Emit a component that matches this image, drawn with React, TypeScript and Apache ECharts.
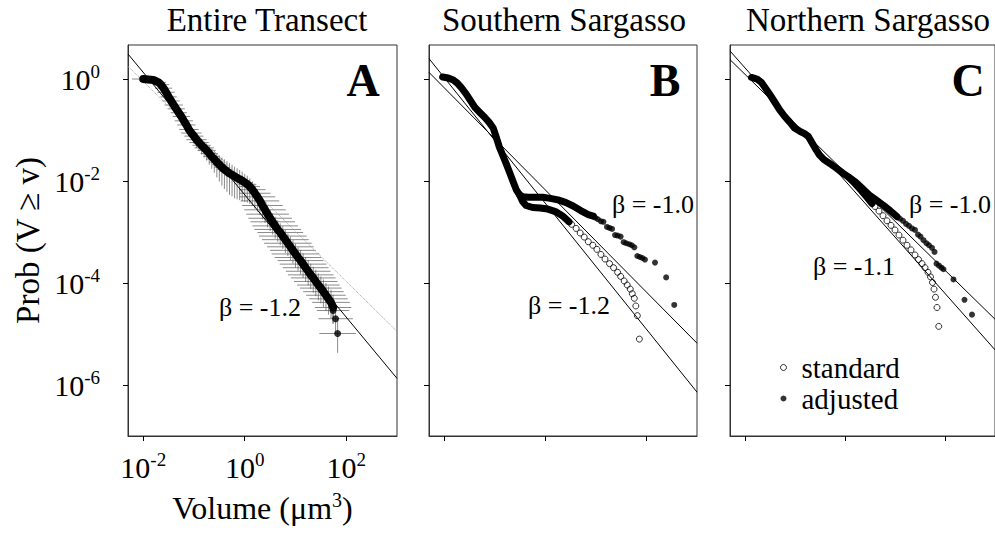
import React, { useEffect, useRef } from "react";
import * as echarts from "echarts";

const FONT = '"Liberation Serif", "Times New Roman", Times, serif';

// ---------- texts ----------
const panelTitles = ["Entire Transect", "Southern Sargasso", "Northern Sargasso"];
const panelLetters = ["A", "B", "C"];
const yAxisTitle = "Prob (V \u2265 v)";
const legendNames = ["standard", "adjusted"];
const betaA = ["\u03b2 = -1.2"];
const betaB = ["\u03b2 = -1.0", "\u03b2 = -1.2"];
const betaC = ["\u03b2 = -1.0", "\u03b2 = -1.1"];

// ---------- axes (log10 units) ----------
const xTickExps = [-2, 0, 2];
const yTickExps = [-6, -4, -2, 0];
const xExtent = [-2.3, 3.0];
const yExtent = [-7, 0.667];

// ---------- Panel A: entire transect (log10 volume, log10 prob) ----------
const aCurve = [
  [-2.0, 0.0], [-1.95, -0.005], [-1.9, -0.01], [-1.85, -0.015], [-1.8, -0.02],
  [-1.75, -0.04], [-1.7, -0.065], [-1.65, -0.11], [-1.6, -0.18], [-1.55, -0.26], [-1.5, -0.35],
  [-1.45, -0.43], [-1.4, -0.51], [-1.35, -0.585], [-1.3, -0.66], [-1.25, -0.735], [-1.2, -0.82],
  [-1.15, -0.9], [-1.1, -0.99], [-1.05, -1.06], [-1.0, -1.12], [-0.95, -1.19], [-0.9, -1.245],
  [-0.85, -1.3], [-0.8, -1.35], [-0.75, -1.4], [-0.7, -1.46], [-0.65, -1.52], [-0.6, -1.57],
  [-0.55, -1.63], [-0.5, -1.68], [-0.45, -1.73], [-0.4, -1.775], [-0.35, -1.81], [-0.3, -1.85],
  [-0.25, -1.88], [-0.2, -1.91], [-0.15, -1.94], [-0.1, -1.965], [-0.05, -1.995], [0.0, -2.03],
  [0.05, -2.065], [0.1, -2.11],
  [0.15, -2.17], [0.2, -2.24], [0.25, -2.31], [0.3, -2.39], [0.35, -2.48], [0.4, -2.565],
  [0.45, -2.65], [0.5, -2.73],
  [0.55, -2.8], [0.6, -2.88], [0.65, -2.95], [0.7, -3.01], [0.75, -3.08], [0.8, -3.15],
  [0.85, -3.22], [0.9, -3.29], [0.95, -3.36], [1.0, -3.43], [1.05, -3.5], [1.1, -3.56],
  [1.15, -3.63], [1.2, -3.7], [1.25, -3.77], [1.3, -3.84], [1.35, -3.9], [1.4, -3.97],
  [1.45, -4.04], [1.5, -4.1], [1.55, -4.17], [1.6, -4.24], [1.65, -4.31], [1.7, -4.38], [1.74, -4.48],
];
const aErrX = [
  0.22, 0.06, 0.06, 0.06, 0.07,
  0.14, 0.15, 0.16, 0.17, 0.17, 0.16, 0.17, 0.18, 0.17, 0.16, 0.17, 0.18,
  0.18, 0.19, 0.2, 0.19, 0.2, 0.19, 0.18, 0.19, 0.18, 0.17, 0.16, 0.16,
  0.15, 0.14, 0.15, 0.14, 0.15, 0.14, 0.15, 0.16, 0.15, 0.16, 0.15, 0.16, 0.18, 0.2,
  0.26, 0.31, 0.35, 0.38, 0.4, 0.41, 0.42, 0.43,
  0.44, 0.45, 0.46, 0.45, 0.47, 0.46, 0.47, 0.46, 0.45, 0.47, 0.46, 0.45, 0.46, 0.45, 0.44,
  0.45, 0.44, 0.43, 0.42, 0.41, 0.4, 0.39, 0.38, 0.37, 0.36,
];
const aErrYDown = [
  0.03, 0.03, 0.04, 0.04, 0.05,
  0.06, 0.07, 0.07, 0.08, 0.08, 0.09, 0.09, 0.1, 0.1, 0.11, 0.11, 0.12,
  0.12, 0.13, 0.14, 0.15, 0.16, 0.17, 0.18, 0.19, 0.2, 0.22, 0.24, 0.27,
  0.3, 0.33, 0.36, 0.38, 0.4, 0.42, 0.42, 0.43, 0.42, 0.41, 0.4, 0.38, 0.36, 0.34,
  0.32, 0.3, 0.29, 0.28, 0.27, 0.26, 0.26, 0.25,
  0.25, 0.25, 0.24, 0.25, 0.25, 0.26, 0.25, 0.26, 0.26, 0.27, 0.26, 0.27, 0.27, 0.28, 0.28,
  0.28, 0.29, 0.29, 0.3, 0.3, 0.3, 0.31, 0.31, 0.32, 0.32,
];
const aErrYUp = [
  0.02, 0.02, 0.03, 0.03, 0.03,
  0.04, 0.05, 0.05, 0.05, 0.06, 0.06, 0.06, 0.07, 0.07, 0.07, 0.08, 0.08,
  0.08, 0.09, 0.09, 0.1, 0.1, 0.11, 0.12, 0.12, 0.13, 0.14, 0.15, 0.16,
  0.17, 0.18, 0.19, 0.2, 0.2, 0.2, 0.2, 0.19, 0.19, 0.18, 0.18, 0.17, 0.17, 0.16,
  0.16, 0.16, 0.15, 0.15, 0.15, 0.16, 0.16, 0.17,
  0.17, 0.18, 0.18, 0.18, 0.19, 0.19, 0.19, 0.2, 0.2, 0.2, 0.2, 0.21, 0.21, 0.21, 0.22,
  0.22, 0.22, 0.23, 0.23, 0.23, 0.24, 0.24, 0.24, 0.25, 0.25,
];
const aTail = [[1.74, -4.54], [1.79, -4.7], [1.83, -4.99]];
const aTailErrX = [0.32, 0.34, 0.36];
const aTailErrYDown = [0.25, 0.3, 0.38];
const aTailErrYUp = [0.2, 0.22, 0.3];
const aFit = [[-2.3, 0.49], [3.0, -5.87]];
const aFitDotted = [[-2.3, 0.25], [3.0, -4.95]];

// ---------- Panel B: southern Sargasso ----------
const bAdjCurve = [
  [-2.03, 0.04], [-1.92, 0.02], [-1.82, -0.02], [-1.74, -0.08], [-1.66, -0.17], [-1.56, -0.3],
  [-1.47, -0.44], [-1.39, -0.56], [-1.3, -0.65], [-1.2, -0.75], [-1.11, -0.85], [-1.03, -0.96],
  [-0.97, -1.14], [-0.91, -1.33], [-0.84, -1.5], [-0.77, -1.67], [-0.7, -1.85], [-0.63, -2.03],
  [-0.57, -2.18], [-0.51, -2.27], [-0.44, -2.31], [-0.34, -2.32], [-0.2, -2.32], [-0.05, -2.32],
  [0.1, -2.34], [0.25, -2.37], [0.4, -2.42], [0.55, -2.49], [0.7, -2.58], [0.85, -2.66], [0.95, -2.69],
];
const bStdCurve = [
  [-0.51, -2.27], [-0.45, -2.4], [-0.38, -2.48], [-0.25, -2.52], [-0.1, -2.53], [0.05, -2.55],
  [0.2, -2.6], [0.35, -2.69], [0.47, -2.8],
];
const bAdjDots = [
  [0.99, -2.72], [1.04, -2.75], [1.1, -2.79], [1.15, -2.8], [1.22, -2.9], [1.27, -2.92],
  [1.32, -2.94], [1.38, -3.06], [1.43, -3.07], [1.49, -3.09], [1.55, -3.2], [1.6, -3.22],
  [1.66, -3.24], [1.71, -3.26], [1.76, -3.3], [1.82, -3.47], [1.87, -3.49], [1.92, -3.51],
  [1.97, -3.54], [2.17, -3.6], [2.39, -3.89], [2.55, -4.43],
];
const bStdDots = [
  [0.52, -2.85], [0.61, -2.93], [0.69, -3.02], [0.77, -3.1], [0.85, -3.19], [0.94, -3.26],
  [1.02, -3.34], [1.1, -3.44], [1.18, -3.53], [1.27, -3.62], [1.35, -3.7], [1.43, -3.79],
  [1.49, -3.87], [1.56, -3.96], [1.62, -4.04], [1.68, -4.12], [1.72, -4.21], [1.76, -4.3],
  [1.79, -4.45], [1.82, -4.64], [1.86, -5.1],
];
const bFit10 = [[-2.3, 0.13], [3.0, -5.18]];
const bFit12 = [[-2.3, 0.4], [3.0, -6.14]];

// ---------- Panel C: northern Sargasso ----------
const cAdjCurve = [
  [-1.87, 0.03], [-1.76, 0.0], [-1.67, -0.07], [-1.59, -0.18], [-1.5, -0.31], [-1.4, -0.46],
  [-1.31, -0.6], [-1.21, -0.73], [-1.11, -0.84], [-1.01, -0.96], [-0.91, -1.02], [-0.81, -1.07],
  [-0.73, -1.13], [-0.66, -1.25], [-0.59, -1.37], [-0.51, -1.49], [-0.42, -1.58], [-0.3, -1.66],
  [-0.17, -1.75], [-0.05, -1.84], [0.08, -1.93], [0.2, -2.01], [0.34, -2.14], [0.48, -2.27],
  [0.62, -2.37], [0.76, -2.47], [0.9, -2.58], [1.04, -2.7],
];
const cStdCurve = [[0.08, -1.93], [0.2, -2.05], [0.32, -2.18], [0.44, -2.32], [0.54, -2.44]];
const cAdjDots = [
  [1.1, -2.74], [1.16, -2.78], [1.22, -2.84], [1.28, -2.88], [1.34, -2.93], [1.4, -2.96],
  [1.46, -3.05], [1.51, -3.09], [1.57, -3.16], [1.63, -3.22], [1.68, -3.26], [1.74, -3.31],
  [1.79, -3.39], [1.83, -3.62], [1.88, -3.66], [1.93, -3.7], [1.97, -3.73], [2.17, -3.93],
  [2.39, -4.33], [2.54, -4.62],
];
const cStdDots = [
  [0.6, -2.5], [0.68, -2.59], [0.76, -2.68], [0.84, -2.78], [0.92, -2.87], [1.0, -2.96],
  [1.08, -3.06], [1.16, -3.16], [1.24, -3.26], [1.32, -3.35], [1.4, -3.45], [1.47, -3.54],
  [1.54, -3.62], [1.6, -3.7], [1.66, -3.79], [1.71, -3.88], [1.75, -3.99], [1.78, -4.12],
  [1.81, -4.28], [1.84, -4.48], [1.875, -4.85],
];
const cFit10 = [[-2.3, 0.38], [3.0, -4.71]];
const cFit11 = [[-2.3, 0.55], [3.0, -5.31]];

// ---------- layout ----------
const gridLeft = [128, 429, 730];
const gridWidth = [269, 268, 268];
const gridTop = 45;
const gridHeight = 391;

function buildOption() {
  const tickRich = {
    b: { fontFamily: FONT, fontSize: 30, color: "#000", lineHeight: 34 },
    s: { fontFamily: FONT, fontSize: 19, color: "#000", lineHeight: 19, verticalAlign: "top" },
  };
  const fmt = (v: number) => `{b|10}{s|${v}}`;

  const grid = gridLeft.map((l, i) => ({
    left: l, top: gridTop, width: gridWidth[i], height: gridHeight,
    show: true, borderColor: "#333", borderWidth: 1, backgroundColor: "transparent",
  }));

  const xAxis = gridLeft.map((_, i) => ({
    type: "value", gridIndex: i, min: xExtent[0], max: xExtent[1],
    axisLine: { show: true, onZero: false, lineStyle: { color: "#333", width: 1 } },
    axisTick: { show: true, inside: false, length: 5, customValues: xTickExps, lineStyle: { color: "#000" } },
    axisLabel: i === 0
      ? { show: true, customValues: xTickExps, formatter: fmt, margin: 14, rich: tickRich }
      : { show: false },
    splitLine: { show: false },
    name: i === 0 ? "{a|Volume (\u03bcm}{s|3}{a|)}" : "",
    nameLocation: "middle",
    nameGap: 54,
    nameTextStyle: {
      rich: {
        a: { fontFamily: FONT, fontSize: 32, color: "#000", lineHeight: 36 },
        s: { fontFamily: FONT, fontSize: 20, color: "#000", lineHeight: 20, verticalAlign: "top" },
      },
    },
  }));

  const yAxis = gridLeft.map((_, i) => ({
    type: "value", gridIndex: i, min: yExtent[0], max: yExtent[1],
    axisLine: { show: true, onZero: false, lineStyle: { color: "#333", width: 1 } },
    axisTick: { show: true, inside: false, length: 5, customValues: yTickExps, lineStyle: { color: "#000" } },
    axisLabel: i === 0
      ? { show: true, customValues: yTickExps, formatter: fmt, margin: 28, rich: tickRich }
      : { show: false },
    splitLine: { show: false },
    name: i === 0 ? yAxisTitle : "",
    nameLocation: "middle",
    nameRotate: 90,
    nameGap: 84,
    nameTextStyle: { fontFamily: FONT, fontSize: 33, color: "#000" },
  }));

  const thin = (data: number[][], i: number, extra: any = {}) => ({
    type: "line", xAxisIndex: i, yAxisIndex: i, data, symbol: "none", silent: true,
    lineStyle: { color: "#000", width: 1, ...extra }, z: 2,
  });
  const thick = (data: number[][], i: number, w: number) => ({
    type: "line", xAxisIndex: i, yAxisIndex: i, data, symbol: "none", silent: true,
    lineStyle: { color: "#000", width: w, cap: "round", join: "round" }, z: 3,
  });
  const dots = (name: string, data: number[][], i: number, open: boolean, size: number) => ({
    type: "scatter", name, xAxisIndex: i, yAxisIndex: i, data, symbol: "circle", symbolSize: size, silent: true,
    itemStyle: open
      ? { color: "rgba(0,0,0,0)", borderColor: "#000", borderWidth: 1 }
      : { color: "#000", borderWidth: 0 },
    z: 4,
  });

  const errRows = [
    ...aCurve.map((p, k) => [p[0], p[1], aErrX[k], aErrYDown[k], aErrYUp[k]]),
    ...aTail.map((p, k) => [p[0], p[1], aTailErrX[k], aTailErrYDown[k], aTailErrYUp[k]]),
  ];

  const errorBars = {
    type: "custom", xAxisIndex: 0, yAxisIndex: 0, data: errRows, clip: true, silent: true, z: 1,
    encode: { x: 0, y: 1 },
    renderItem: (_p: any, api: any) => {
      const x = api.value(0), y = api.value(1);
      const ex = api.value(2), ed = api.value(3), eu = api.value(4);
      const l = api.coord([x - ex, y]);
      const r = api.coord([x + ex, y]);
      const b = api.coord([x, y - ed]);
      const t = api.coord([x, y + eu]);
      const st = { stroke: "#5a5a5a", lineWidth: 1, opacity: 0.7 };
      return {
        type: "group",
        children: [
          { type: "line", shape: { x1: l[0], y1: l[1], x2: r[0], y2: r[1] }, style: st },
          { type: "line", shape: { x1: b[0], y1: b[1], x2: t[0], y2: t[1] }, style: st },
        ],
      };
    },
  };

  const series: any[] = [
    errorBars,
    thin(aFitDotted, 0, { type: "dotted", color: "#9a9a9a" }),
    thin(aFit, 0),
    thick(aCurve, 0, 8),
    dots("adjusted", aTail, 0, false, 7),

    thin(bFit10, 1),
    thin(bFit12, 1),
    thick(bAdjCurve, 1, 7),
    thick(bStdCurve, 1, 7),
    dots("adjusted", bAdjDots, 1, false, 6),
    dots("standard", bStdDots, 1, true, 6),

    thin(cFit10, 2),
    thin(cFit11, 2),
    thick(cAdjCurve, 2, 7),
    thick(cStdCurve, 2, 7),
    dots("adjusted", cAdjDots, 2, false, 6),
    dots("standard", cStdDots, 2, true, 6),
  ];

  const titleX = [267, 564, 868];
  const letterX = [363, 665, 968];
  const txt = (text: string, x: number, y: number, size: number, extra: any = {}) => ({
    type: "text", x, y, silent: true, z: 10,
    style: {
      text, fontFamily: FONT, fontSize: size, fill: "#000",
      align: "center", verticalAlign: "middle", ...extra,
    },
  });

  const graphic = [
    ...panelTitles.map((t, i) => txt(t, titleX[i], 20, 33)),
    ...panelLetters.map((t, i) => txt(t, letterX[i], 80, 46, { fontWeight: "bold" })),
    txt(betaA[0], 260, 307, 26),
    txt(betaB[0], 653, 204, 26),
    txt(betaB[1], 569, 305, 26),
    txt(betaC[0], 950, 204, 26),
    txt(betaC[1], 854, 266, 26),
  ];

  return {
    animation: false,
    backgroundColor: "#fff",
    grid,
    xAxis,
    yAxis,
    series,
    graphic,
    legend: {
      show: true, selectedMode: false, orient: "vertical", left: 780, top: 353, padding: 0,
      itemWidth: 14, itemHeight: 6, itemGap: 2,
      data: [
        { name: legendNames[0], icon: "circle", itemStyle: { color: "rgba(0,0,0,0)", borderColor: "#000", borderWidth: 1 } },
        { name: legendNames[1], icon: "circle", itemStyle: { color: "#000", borderWidth: 0 } },
      ],
      textStyle: { fontFamily: FONT, fontSize: 29, color: "#000", lineHeight: 28, padding: [0, 0, 0, 6] },
    },
  };
}

export default function App() {
  const ref = useRef<HTMLDivElement>(null);
  useEffect(() => {
    if (!ref.current) return;
    const chart = echarts.init(ref.current, null, { renderer: "svg" });
    chart.setOption(buildOption() as any);
    return () => chart.dispose();
  }, []);
  return (
    <div
      ref={ref}
      style={{ position: "absolute", left: 0, top: 0, width: 995, height: 539, background: "#fff" }}
    />
  );
}
